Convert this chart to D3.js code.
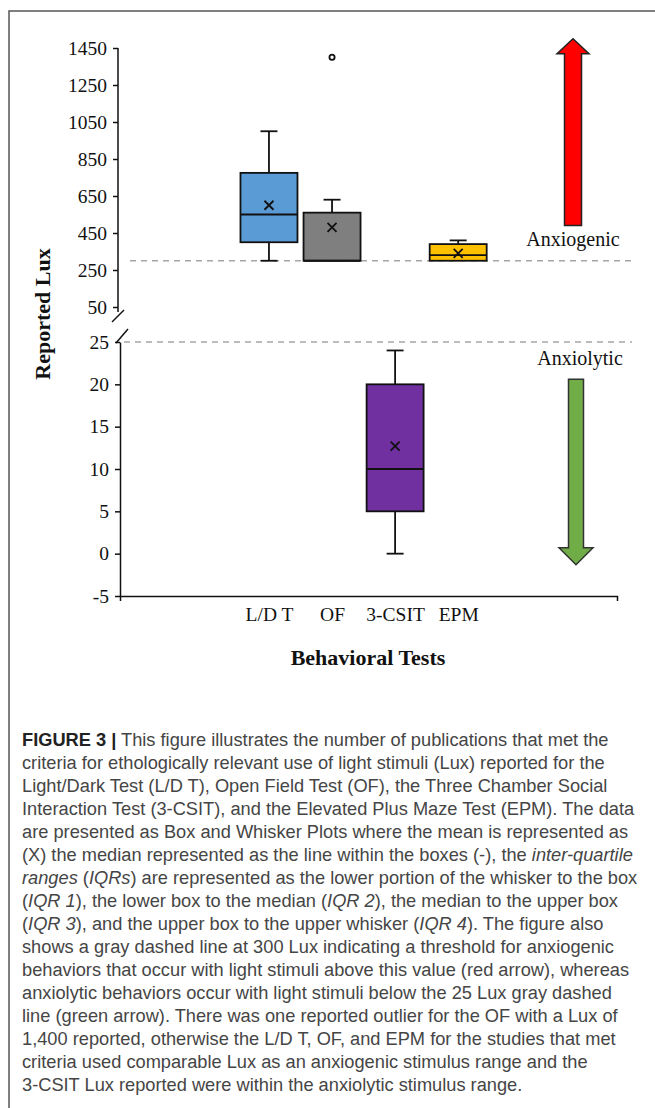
<!DOCTYPE html>
<html>
<head>
<meta charset="utf-8">
<script src="https://cdn.jsdelivr.net/npm/d3@7"></script>
<style>
  body { margin: 0; background: #fff; }
  svg { display: block; }
</style>
</head>
<body>
<script>
const width = 655, height = 1108;

// box plot data (upper panel = Lux 50..1450, lower = -5..25)
const tests = ["L/D T", "OF", "3-CSIT", "EPM"];
const panels = ["upper", "upper", "lower", "upper"];
const whiskerLow = [300, 300, 0, 300];
const q1 = [400, 300, 5, 300];
const medians = [550, 300, 10, 330];
const q3 = [775, 560, 20, 390];
const whiskerHigh = [1000, 630, 24, 410];
const means = [600, 480, 12.7, 340];
const boxColors = ["#5b9bd5", "#7f7f7f", "#7030a0", "#ffc000"];
const outlierTests = ["OF"];
const outlierValues = [1400];

const upperTicks = [50, 250, 450, 650, 850, 1050, 1250, 1450];
const lowerTicks = [-5, 0, 5, 10, 15, 20, 25];
const anxiogenicLux = 300, anxiolyticLux = 25;
const redArrow = [490, 1500];     // base -> tip (upper scale)
const greenArrow = [20.6, -1.3];  // base -> tip (lower scale)

const captionLines = [
  "**FIGURE 3 |** This figure illustrates the number of publications that met the",
  "criteria for ethologically relevant use of light stimuli (Lux) reported for the",
  "Light/Dark Test (L/D T), Open Field Test (OF), the Three Chamber Social",
  "Interaction Test (3-CSIT), and the Elevated Plus Maze Test (EPM). The data",
  "are presented as Box and Whisker Plots where the mean is represented as",
  "(X) the median represented as the line within the boxes (-), the *inter-quartile*",
  "*ranges* (*IQRs*) are represented as the lower portion of the whisker to the box",
  "(*IQR 1*), the lower box to the median (*IQR 2*), the median to the upper box",
  "(*IQR 3*), and the upper box to the upper whisker (*IQR 4*). The figure also",
  "shows a gray dashed line at 300 Lux indicating a threshold for anxiogenic",
  "behaviors that occur with light stimuli above this value (red arrow), whereas",
  "anxiolytic behaviors occur with light stimuli below the 25 Lux gray dashed",
  "line (green arrow). There was one reported outlier for the OF with a Lux of",
  "1,400 reported, otherwise the L/D T, OF, and EPM for the studies that met",
  "criteria used comparable Lux as an anxiogenic stimulus range and the",
  "3-CSIT Lux reported were within the anxiolytic stimulus range."
];

const serif = "'Liberation Serif', 'Times New Roman', serif";
const sans = "'Liberation Sans', Arial, sans-serif";

let svg = d3.select("body")
  .append("svg")
  .attr("width", width)
  .attr("height", height);

// frame (top + left edge of the figure panel)
svg.append("path")
  .attr("d", `M9,${height}V11H${width}`)
  .attr("fill", "none")
  .attr("stroke", "#555")
  .attr("stroke-width", 1.5);

// scales
const upperX = 118, lowerX = 120;
const yUp = d3.scaleLinear().domain([50, 1450]).range([307, 48]);
const yLo = d3.scaleLinear().domain([-5, 25]).range([596, 342]);
const xScale = d3.scalePoint()
  .domain(tests)
  .range([lowerX, 617])
  .padding(2.44)
  .align(0.484);
const boxW = 57, capW = 17;
const yOf = (i) => panels[i] === "upper" ? yUp : yLo;
const plainNum = (d) => String(d);

// threshold dashed lines
svg.append("line")
  .attr("x1", 130).attr("x2", 632)
  .attr("y1", yUp(anxiogenicLux)).attr("y2", yUp(anxiogenicLux))
  .attr("stroke", "#a6a6a6").attr("stroke-width", 1.5)
  .attr("stroke-dasharray", "6,5");
svg.append("line")
  .attr("x1", 124).attr("x2", 632)
  .attr("y1", yLo(anxiolyticLux)).attr("y2", yLo(anxiolyticLux))
  .attr("stroke", "#a6a6a6").attr("stroke-width", 1.5)
  .attr("stroke-dasharray", "6,5");

// y axes
function styleAxis(g) {
  g.selectAll("text")
    .attr("font-family", serif)
    .attr("font-size", 19.5)
    .attr("fill", "#111");
  g.selectAll("line, path").attr("stroke", "#111").attr("stroke-width", 1.5);
}

let upAxis = svg.append("g")
  .attr("transform", `translate(${upperX},0)`)
  .call(d3.axisLeft(yUp).tickValues(upperTicks).tickFormat(plainNum)
    .tickSizeInner(5).tickSizeOuter(0).tickPadding(6))
  .call(styleAxis);
upAxis.select(".domain").remove();
upAxis.append("line")
  .attr("y1", yUp(1450)).attr("y2", yUp(50) + 5)
  .attr("stroke", "#111").attr("stroke-width", 1.5);

let loAxis = svg.append("g")
  .attr("transform", `translate(${lowerX},0)`)
  .call(d3.axisLeft(yLo).tickValues(lowerTicks).tickFormat(plainNum)
    .tickSizeInner(5).tickSizeOuter(0).tickPadding(6))
  .call(styleAxis);

// axis break marks
svg.append("line")
  .attr("x1", upperX - 6).attr("y1", yUp(50) + 15)
  .attr("x2", upperX + 6).attr("y2", yUp(50) + 3)
  .attr("stroke", "#111").attr("stroke-width", 1.5);
svg.append("line")
  .attr("x1", lowerX - 4).attr("y1", yLo(25) + 1)
  .attr("x2", lowerX + 8).attr("y2", yLo(25) - 13)
  .attr("stroke", "#111").attr("stroke-width", 1.5);

// x axis
let xAxis = svg.append("g")
  .attr("transform", `translate(0,${yLo(-5)})`)
  .call(d3.axisBottom(xScale).tickSizeInner(0).tickSizeOuter(5).tickPadding(11))
  .call(styleAxis);

// boxes
const boxes = svg.selectAll(".box")
  .data(tests)
  .enter()
  .append("g")
  .attr("class", "box");

boxes.each(function (d, i) {
  const g = d3.select(this);
  const y = yOf(i);
  const cx = xScale(d);

  if (whiskerLow[i] < q1[i]) {
    g.append("line").attr("x1", cx).attr("x2", cx)
      .attr("y1", y(whiskerLow[i])).attr("y2", y(q1[i]));
    g.append("line").attr("x1", cx - capW / 2).attr("x2", cx + capW / 2)
      .attr("y1", y(whiskerLow[i])).attr("y2", y(whiskerLow[i]));
  }
  if (whiskerHigh[i] > q3[i]) {
    g.append("line").attr("x1", cx).attr("x2", cx)
      .attr("y1", y(whiskerHigh[i])).attr("y2", y(q3[i]));
    g.append("line").attr("x1", cx - capW / 2).attr("x2", cx + capW / 2)
      .attr("y1", y(whiskerHigh[i])).attr("y2", y(whiskerHigh[i]));
  }
  g.append("rect")
    .attr("x", cx - boxW / 2)
    .attr("y", y(q3[i]))
    .attr("width", boxW)
    .attr("height", y(q1[i]) - y(q3[i]))
    .attr("fill", boxColors[i]);
  g.append("line").attr("x1", cx - boxW / 2).attr("x2", cx + boxW / 2)
    .attr("y1", y(medians[i])).attr("y2", y(medians[i]));

  const my = y(means[i]), s = 4.5;
  g.append("path")
    .attr("d", `M${cx - s},${my - s}L${cx + s},${my + s}M${cx - s},${my + s}L${cx + s},${my - s}`)
    .attr("fill", "none");
});
boxes.selectAll("line, rect, path")
  .attr("stroke", "#111")
  .attr("stroke-width", 1.8);

// outlier
svg.selectAll(".outlier")
  .data(outlierValues)
  .enter()
  .append("circle")
  .attr("class", "outlier")
  .attr("cx", (d, i) => xScale(outlierTests[i]))
  .attr("cy", (d) => yUp(d))
  .attr("r", 2.6)
  .attr("fill", "#fff")
  .attr("stroke", "#111")
  .attr("stroke-width", 1.8);

// arrows
function arrowPath(cx, yBase, yTip, shaftHalf, headHalf, headLen) {
  const dir = yTip < yBase ? -1 : 1;
  const hb = yTip - dir * headLen;
  return `M${cx - shaftHalf},${yBase}L${cx - shaftHalf},${hb}L${cx - headHalf},${hb}` +
    `L${cx},${yTip}L${cx + headHalf},${hb}L${cx + shaftHalf},${hb}L${cx + shaftHalf},${yBase}Z`;
}
const arrowX = 574;
svg.append("path")
  .attr("d", arrowPath(arrowX - 1, yUp(redArrow[0]), yUp(redArrow[1]), 8.5, 16, 15))
  .attr("fill", "#ff0000")
  .attr("stroke", "#222")
  .attr("stroke-width", 1.5);
svg.append("path")
  .attr("d", arrowPath(arrowX + 2, yLo(greenArrow[0]), yLo(greenArrow[1]), 7.5, 17, 17))
  .attr("fill", "#70ad47")
  .attr("stroke", "#333")
  .attr("stroke-width", 1.5);

svg.append("text")
  .attr("x", arrowX - 1)
  .attr("y", yUp(anxiogenicLux) - 15)
  .attr("text-anchor", "middle")
  .attr("font-family", serif)
  .attr("font-size", 20)
  .attr("fill", "#111")
  .text("Anxiogenic");
svg.append("text")
  .attr("x", arrowX + 6)
  .attr("y", yLo(anxiolyticLux) + 23)
  .attr("text-anchor", "middle")
  .attr("font-family", serif)
  .attr("font-size", 20)
  .attr("fill", "#111")
  .text("Anxiolytic");

// axis titles
svg.append("text")
  .attr("transform", "translate(50,314) rotate(-90)")
  .attr("text-anchor", "middle")
  .attr("font-family", serif)
  .attr("font-weight", "bold")
  .attr("font-size", 22)
  .attr("fill", "#111")
  .text("Reported Lux");
svg.append("text")
  .attr("x", 368)
  .attr("y", 665)
  .attr("text-anchor", "middle")
  .attr("font-family", serif)
  .attr("font-weight", "bold")
  .attr("font-size", 22)
  .attr("fill", "#111")
  .text("Behavioral Tests");

// caption
const capX = 22, capY0 = 746, capStep = 23;
let caption = svg.append("g")
  .attr("font-family", sans)
  .attr("font-size", 16)
  .attr("fill", "#454545");

captionLines.forEach((line, k) => {
  const t = caption.append("text")
    .attr("class", "cap")
    .attr("x", capX)
    .attr("y", capY0 + k * capStep);
  line.split(/(\*\*[^*]+\*\*|\*[^*]+\*)/).filter((p) => p.length).forEach((p) => {
    const ts = t.append("tspan");
    if (p.startsWith("**")) {
      ts.text(p.slice(2, -2)).attr("font-weight", "bold").attr("fill", "#222");
    } else if (p.startsWith("*")) {
      ts.text(p.slice(1, -1)).attr("font-style", "italic");
    } else {
      ts.text(p);
    }
  });
});
caption.selectAll("text").style("white-space", "pre");

// fit caption size to the width of the second line (x 22 -> ~605)
const w2 = caption.selectAll(".cap").nodes()[1].getComputedTextLength();
caption.attr("font-size", 16 * 583 / w2);
</script>
</body>
</html>
